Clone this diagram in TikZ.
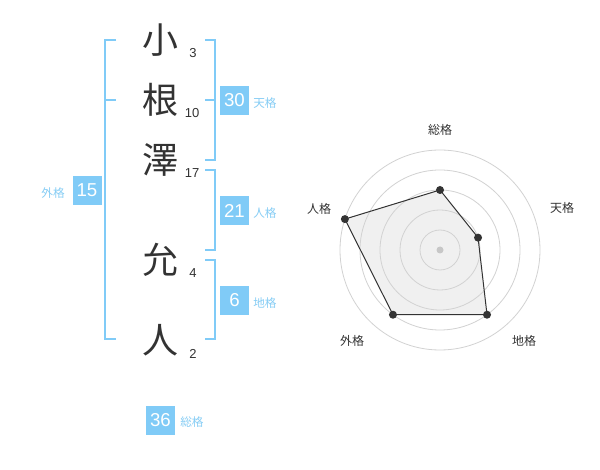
\documentclass[tikz,border=0pt]{standalone}
\usepackage{fontspec}
\setmainfont{Noto Sans CJK JP}
\newfontfamily\digitfont{Liberation Sans}
\begin{document}
\begin{tikzpicture}[x=0.75pt,y=-0.75pt,
  bl/.style={draw=skyb,line width=1.5pt},
  kanji/.style={font=\fontsize{27}{27}\selectfont,text=ink,inner sep=0pt},
  strokes/.style={font=\digitfont\fontsize{9.75}{10}\selectfont,text=ink,inner sep=0pt},
  vbox/.style={fill=skyb,text=white,minimum width=21.75pt,minimum height=21.75pt,inner sep=0pt,font=\digitfont\fontsize{14}{14}\selectfont},
  vlabel/.style={text=skyl,font=\fontsize{8.75}{9}\selectfont,inner sep=0pt},
  rlabel/.style={text=ink,font=\fontsize{9}{9}\selectfont,inner sep=0pt},
  ring/.style={draw=ringc,line width=0.6pt},
  vdot/.style={circle,fill=ink,inner sep=0pt,minimum size=6pt}
]
\definecolor{skyb}{HTML}{80CBF7}
\definecolor{skyl}{HTML}{86CDF5}
\definecolor{ink}{HTML}{333333}
\definecolor{ringc}{HTML}{D2D2D2}
\useasboundingbox (0,0) rectangle (600,470);
\fill[white] (0,0) rectangle (600,470);

% characters
\node[kanji] (c1) at (160,40) {小};
\node[kanji] (c2) at (160,100) {根};
\node[kanji] (c3) at (160,160) {澤};
\node[kanji] (c4) at (160,260) {允};
\node[kanji] (c5) at (160,340) {人};
\node[strokes] (n1) at (193,53) {3};
\node[strokes] (n2) at (192,113) {10};
\node[strokes] (n3) at (192,173) {17};
\node[strokes] (n4) at (193,273) {4};
\node[strokes] (n5) at (193,354) {2};

% left bracket (gaikaku)
\coordinate (L1) at (116,40);
\coordinate (L1a) at (105,40);
\coordinate (L2) at (105,100);
\coordinate (L2a) at (116,100);
\coordinate (L3a) at (105,339);
\coordinate (L3) at (116,339);
\draw[bl] (L1) -- (L1a) -- (L3a) -- (L3);
\draw[bl] (L2) -- (L2a);

% right brackets
\coordinate (T1) at (205,40);
\coordinate (T1a) at (215,40);
\coordinate (T2) at (205,100);
\coordinate (T2a) at (215,100);
\coordinate (T3a) at (215,160);
\coordinate (T3) at (205,160);
\draw[bl] (T1) -- (T1a) -- (T3a) -- (T3);
\draw[bl] (T2) -- (T2a);

\coordinate (J1) at (205,170);
\coordinate (J1a) at (215,170);
\coordinate (J2a) at (215,250);
\coordinate (J2) at (205,250);
\draw[bl] (J1) -- (J1a) -- (J2a) -- (J2);

\coordinate (D1) at (205,260);
\coordinate (D1a) at (215,260);
\coordinate (D2a) at (215,339);
\coordinate (D2) at (205,339);
\draw[bl] (D1) -- (D1a) -- (D2a) -- (D2);

% value boxes
\node[vbox] (b30) at (234.5,100.5) {30};
\node[vlabel,anchor=west] (l30) at (253,103) {天格};
\node[vbox] (b21) at (234.5,210.5) {21};
\node[vlabel,anchor=west] (l21) at (253,213) {人格};
\node[vbox] (b6) at (234.5,300.5) {6};
\node[vlabel,anchor=west] (l6) at (253,303) {地格};
\node[vbox] (b15) at (87,190.5) {15};
\node[vlabel,anchor=east] (l15) at (65,193) {外格};
\node[vbox] (b36) at (160.5,420) {36};
\node[vlabel,anchor=west] (l36) at (180,422) {総格};

% radar chart
\begin{scope}[shift={(440,250)},yscale=-1]
  \coordinate (rS) at (90:60);
  \coordinate (rT) at (18:40);
  \coordinate (rC) at (-54:80);
  \coordinate (rG) at (-126:80);
  \coordinate (rJ) at (162:100);
  \fill[black!6] (rS) -- (rT) -- (rC) -- (rG) -- (rJ) -- cycle;
  \foreach \r in {20,40,60,80,100} \draw[ring] (0,0) circle (\r);
  \draw[draw=ink,line width=0.75pt] (rS) -- (rT) -- (rC) -- (rG) -- (rJ) -- cycle;
  \fill[black!22] (0,0) circle (3.5);
  \foreach \p in {rS,rT,rC,rG,rJ} \node[vdot] at (\p) {};
\end{scope}
\node[rlabel] (aS) at (440,130) {総格};
\node[rlabel] (aT) at (562,208) {天格};
\node[rlabel] (aJ) at (319,209) {人格};
\node[rlabel] (aC) at (524,341) {地格};
\node[rlabel] (aG) at (352,341) {外格};
\end{tikzpicture}
\end{document}
